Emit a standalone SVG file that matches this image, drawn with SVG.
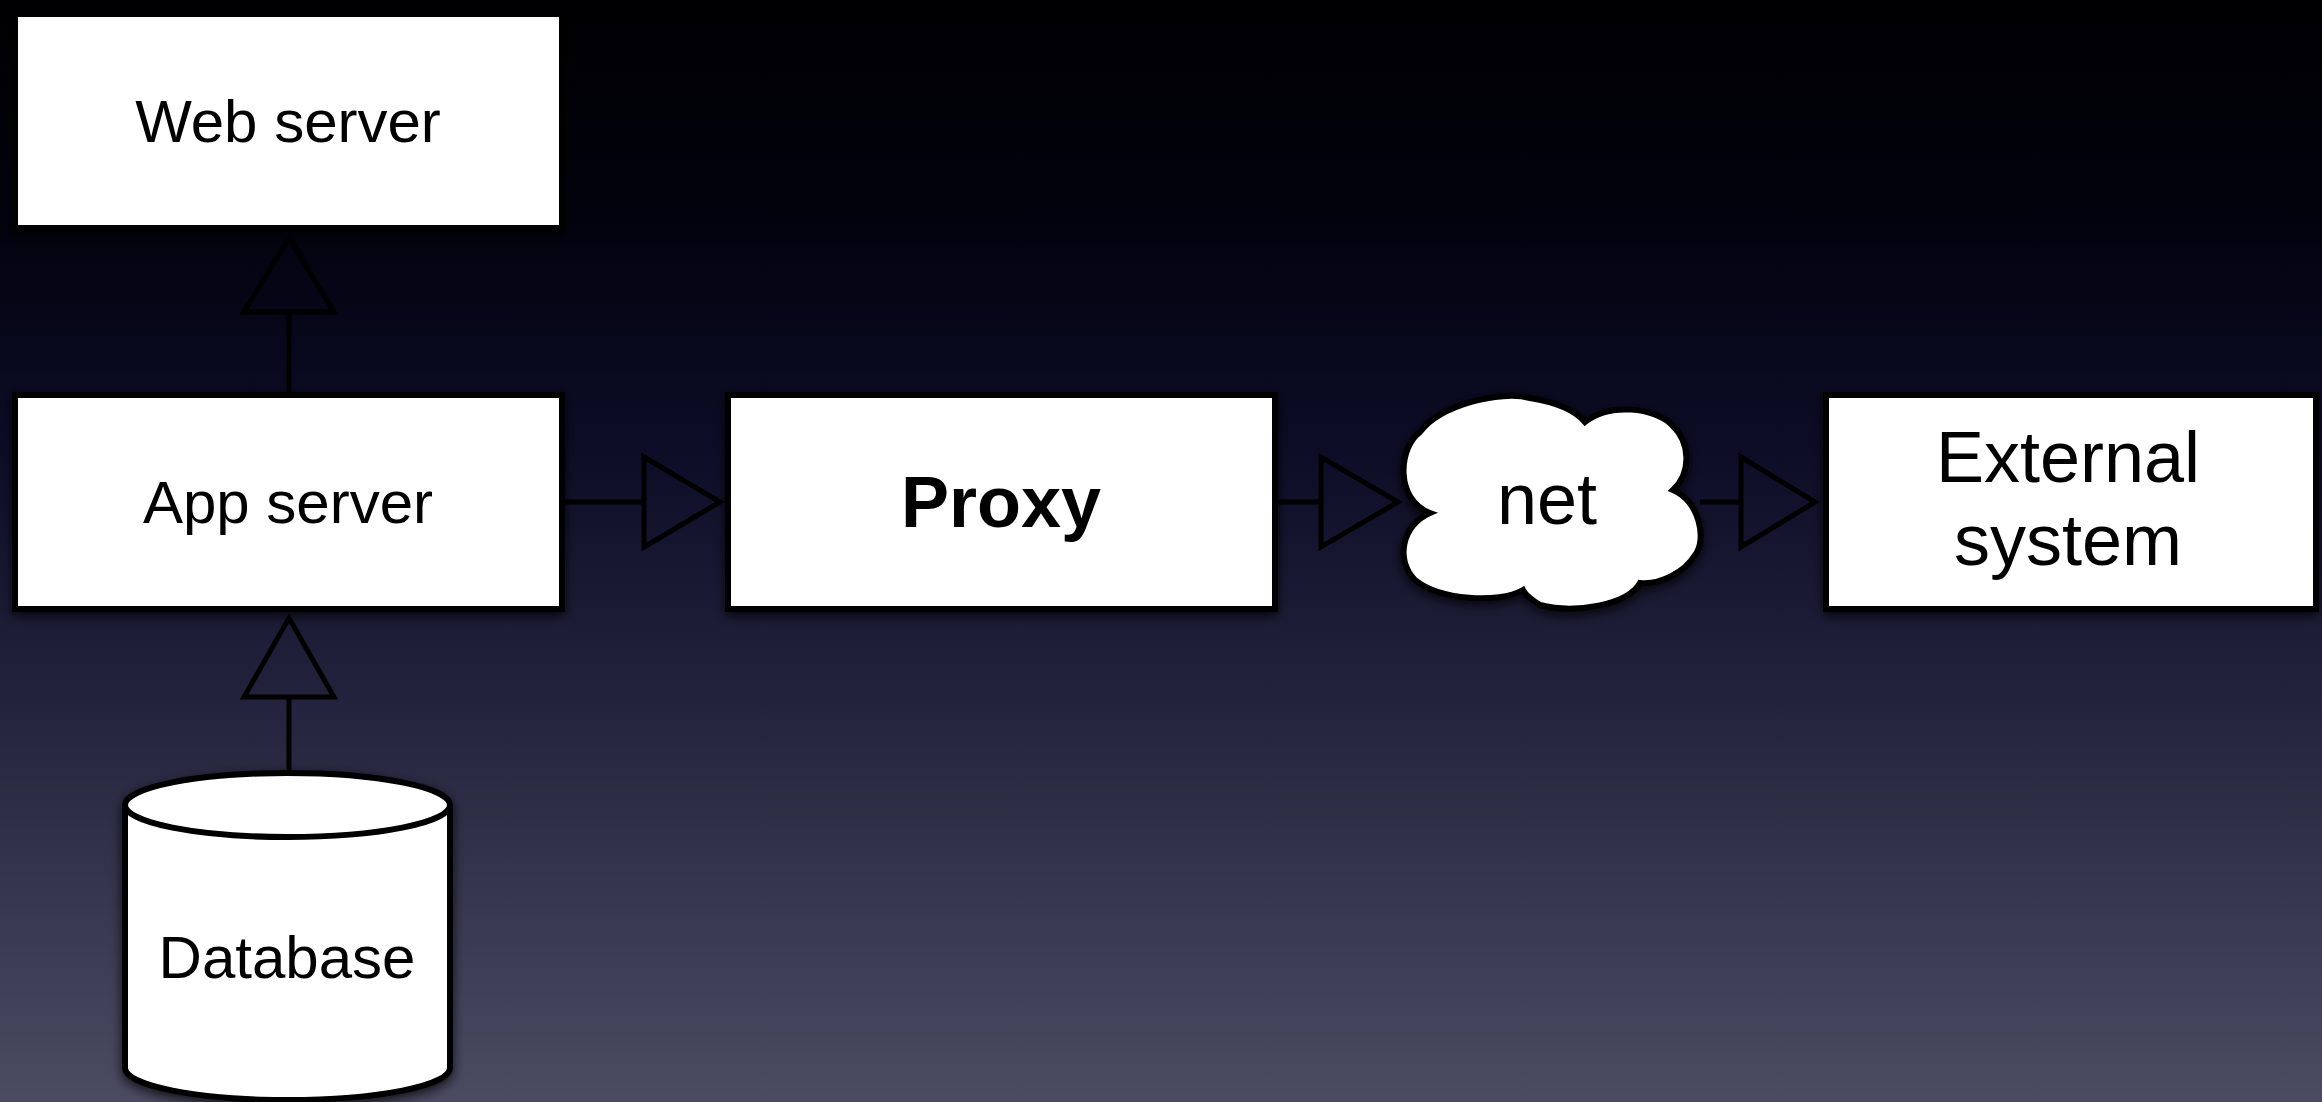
<svg xmlns="http://www.w3.org/2000/svg" width="2322" height="1102" viewBox="0 0 2322 1102">
<defs>
<linearGradient id="bg" x1="0" y1="0" x2="0" y2="1">
<stop offset="0" stop-color="#000002"/>
<stop offset="0.2" stop-color="#02020e"/>
<stop offset="0.4" stop-color="#0c0c26"/>
<stop offset="0.65" stop-color="#24243e"/>
<stop offset="1" stop-color="#4b4b62"/>
</linearGradient>
<filter id="sh" x="-10%" y="-10%" width="120%" height="130%">
<feDropShadow dx="0" dy="4" stdDeviation="6" flood-color="#000" flood-opacity="0.75"/>
</filter>
</defs>
<style>
.box{fill:#fff;stroke:#000;stroke-width:6;filter:url(#sh)}
.lbl{font-family:"Liberation Sans",Arial,sans-serif;font-size:60px;fill:#000;text-anchor:middle}
.big{font-size:72px}
.bold{font-weight:bold}
.conn line{stroke:#000;stroke-width:5}
.conn polygon{fill:none;stroke:#000;stroke-width:5;stroke-linejoin:miter}
</style>
<rect x="0" y="0" width="2322" height="1102" fill="url(#bg)"/>
<g id="connectors" class="conn">
<line x1="289" y1="395" x2="289" y2="312"/>
<polygon points="289,238 334,312 244,312"/>
<line x1="289" y1="775" x2="289" y2="697"/>
<polygon points="289,618 334,697 244,697"/>
<line x1="562" y1="502" x2="644" y2="502"/>
<polygon points="720,502 644,457 644,547"/>
<line x1="1275" y1="502" x2="1321" y2="502"/>
<polygon points="1398,502 1321,457 1321,547"/>
<line x1="1700" y1="502" x2="1741" y2="502"/>
<polygon points="1815,502 1741,457 1741,547"/>
</g>
<g id="web-server">
<rect class="box" x="15" y="14" width="547" height="214"/>
<text class="lbl" x="288" y="142">Web server</text>
</g>
<g id="app-server">
<rect class="box" x="15" y="395" width="547" height="214"/>
<text class="lbl" x="288" y="523">App server</text>
</g>
<g id="proxy">
<rect class="box" x="728" y="395" width="547" height="214"/>
<text class="lbl big bold" x="1001" y="527">Proxy</text>
</g>
<g id="net">
<path class="box" d="M1430 513 C1395 500 1398 448 1420 432 C1440 405 1500 390 1530 398 C1555 402 1575 410 1585 422 C1610 402 1655 408 1672 425 C1690 442 1692 472 1673 490 C1700 502 1707 540 1695 555 C1685 572 1660 585 1640 583 C1628 605 1575 614 1540 605 C1532 600 1526 596 1523 590 C1498 604 1440 600 1415 580 C1395 560 1402 525 1430 513 Z"/>
<text class="lbl big" x="1547" y="524">net</text>
</g>
<g id="external-system">
<rect class="box" x="1826" y="395" width="490" height="214"/>
<text class="lbl big" x="2068" y="482">External</text>
<text class="lbl big" x="2068" y="565">system</text>
</g>
<g id="database">
<path class="box" d="M125 805 A162.5 32 0 0 1 450 805 L450 1068 A162.5 32 0 0 1 125 1068 Z"/>
<path d="M125 805 A162.5 32 0 0 0 450 805" fill="none" stroke="#000" stroke-width="6"/>
<text class="lbl" x="287" y="978">Database</text>
</g>
</svg>
